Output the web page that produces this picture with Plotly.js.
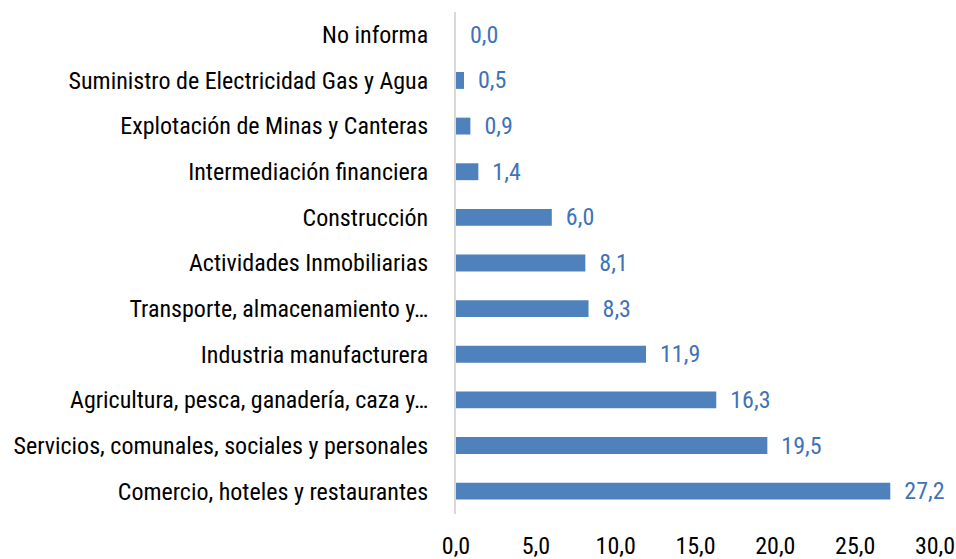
<!DOCTYPE html>
<html>
<head>
<meta charset="utf-8">
<script src="https://cdn.plot.ly/plotly-3.0.1.min.js"></script>
<style>html,body{margin:0;padding:0;background:#fff;}#chart{width:956px;height:559px;}</style>
</head>
<body>
<div id="chart"></div>
<script>
const categories = [
  "No informa",
  "Suministro de Electricidad Gas y Agua",
  "Explotación de Minas y Canteras",
  "Intermediación financiera",
  "Construcción",
  "Actividades Inmobiliarias",
  "Transporte, almacenamiento y…",
  "Industria manufacturera",
  "Agricultura, pesca, ganadería, caza y…",
  "Servicios, comunales, sociales y personales",
  "Comercio, hoteles y restaurantes"
];
const values = [0.0, 0.5, 0.9, 1.4, 6.0, 8.1, 8.3, 11.9, 16.3, 19.5, 27.2];
const xTicks = [0, 5, 10, 15, 20, 25, 30];

const FONT = '"Liberation Sans Narrow", "Arial Narrow", "Roboto Condensed", "Liberation Sans", sans-serif';

const trace = {
  type: 'bar',
  orientation: 'h',
  x: values,
  y: categories,
  marker: {color: '#4f81bd'},
  texttemplate: '\u00a0\u00a0%{x:.1f}',
  textposition: 'outside',
  constraintext: 'none',
  cliponaxis: false,
  textfont: {family: FONT, size: 24, color: '#3f73b8'},
  hoverinfo: 'none'
};

const layout = {
  width: 956,
  height: 559,
  margin: {l: 456, r: 21, t: 12, b: 45},
  paper_bgcolor: '#fff',
  plot_bgcolor: '#fff',
  separators: ',.',
  showlegend: false,
  bargap: 0.63,
  font: {family: FONT, size: 24, color: '#000'},
  xaxis: {
    range: [0, 30],
    tickvals: xTicks,
    tickformat: '.1f',
    showgrid: false,
    zeroline: false,
    showline: false,
    ticks: '',
    ticklabelstandoff: 15,
    tickfont: {family: FONT, size: 24, color: '#000'},
    fixedrange: true
  },
  yaxis: {
    autorange: 'reversed',
    type: 'category',
    showgrid: false,
    zeroline: false,
    showline: true,
    linecolor: '#d9d9d9',
    linewidth: 2,
    ticks: '',
    ticklabelstandoff: 21,
    tickfont: {family: FONT, size: 24, color: '#000'},
    fixedrange: true
  }
};

Plotly.newPlot('chart', [trace], layout, {staticPlot: true, displayModeBar: false});
</script>
</body>
</html>
